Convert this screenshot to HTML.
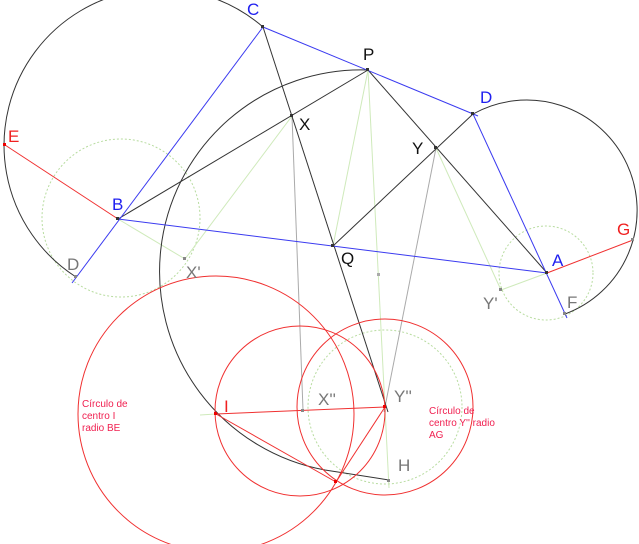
<!DOCTYPE html>
<html><head><meta charset="utf-8"><style>
html,body{margin:0;padding:0;background:#fff;}
svg{display:block;}
text{font-family:"Liberation Sans",sans-serif;}
</style></head><body>
<svg width="639" height="544" viewBox="0 0 639 544" xmlns="http://www.w3.org/2000/svg">
<rect width="639" height="544" fill="#fff"/>
<g fill="none" stroke="#b8dca0" stroke-width="1" stroke-dasharray="2,2">
<circle cx="121" cy="218" r="79"/>
<circle cx="546" cy="273" r="47"/>
<circle cx="385" cy="407" r="77"/>
</g>
<g stroke="#cfeabb" stroke-width="1" fill="none">
<line x1="118" y1="219" x2="185" y2="259"/>
<line x1="185" y1="259" x2="292" y2="116"/>
<line x1="436" y1="148" x2="501" y2="290"/>
<line x1="547" y1="273" x2="501" y2="290"/>
<line x1="368" y1="70" x2="333" y2="246"/>
<line x1="368" y1="70" x2="389" y2="488"/>
<line x1="200" y1="415" x2="216" y2="414"/>
</g>
<g stroke="#aaaaaa" stroke-width="1" fill="none">
<line x1="292" y1="116" x2="303" y2="410"/>
<line x1="436" y1="148" x2="384" y2="412"/>
</g>
<g fill="none" stroke="#333" stroke-width="1">
<path d="M263,27 A156.5,156.5 0 1 0 76,277"/>
<path d="M473,114 A110.4,110.4 0 1 1 565,314"/>
<path d="M368,70 A201.7,201.7 0 0 0 325,470 L389,480"/>
<line x1="118" y1="219" x2="368" y2="70"/>
<line x1="368" y1="70" x2="547" y2="273"/>
<line x1="333" y1="246" x2="473" y2="114"/>
<line x1="263" y1="27" x2="388" y2="412"/>
</g>
<g stroke="#3a3af0" stroke-width="1" fill="none">
<line x1="263" y1="27" x2="478" y2="116"/>
<line x1="263" y1="27" x2="72" y2="283"/>
<line x1="118" y1="219" x2="547" y2="273"/>
<line x1="473" y1="114" x2="567" y2="318"/>
</g>
<g stroke="#f03030" stroke-width="1" fill="none">
<line x1="5" y1="145" x2="118" y2="219"/>
<line x1="547" y1="273" x2="633" y2="240"/>
<circle cx="216" cy="414" r="138"/>
<circle cx="300" cy="411" r="85"/>
<circle cx="385" cy="407" r="88"/>
<line x1="216" y1="414" x2="385" y2="407"/>
<line x1="216" y1="414" x2="336" y2="482"/>
<line x1="385" y1="407" x2="336" y2="482"/>
</g>
<g fill="#333">
<rect x="261" y="25" width="3" height="3"/><rect x="366" y="68" width="3" height="3"/>
<rect x="471" y="112" width="3" height="3"/><rect x="545" y="271" width="3" height="3"/>
<rect x="116" y="217" width="3" height="3"/><rect x="331" y="244" width="3" height="3"/>
<rect x="290" y="114" width="3" height="3"/><rect x="434" y="146" width="3" height="3"/>
<rect x="74" y="275" width="3" height="3" fill="#888"/><rect x="563" y="312" width="3" height="3" fill="#888"/>
<rect x="183" y="257" width="3" height="3" fill="#888"/><rect x="499" y="288" width="3" height="3" fill="#888"/>
<rect x="301" y="409" width="3" height="3" fill="#888"/><rect x="387" y="479" width="3" height="3" fill="#888"/>
<rect x="631" y="238" width="3" height="3" fill="#888"/><rect x="377" y="273" width="3" height="3" fill="#aaa"/>
<rect x="3" y="143" width="3" height="3" fill="#e00"/><rect x="214" y="412" width="3" height="3" fill="#e00"/>
<rect x="334" y="480" width="3" height="3" fill="#e00"/><rect x="383" y="405" width="3" height="3" fill="#e00"/>
</g>
<g font-size="17">
<text x="247" y="15" fill="#2020f0">C</text>
<text x="363" y="60" fill="#111">P</text>
<text x="480" y="103" fill="#2020f0">D</text>
<text x="412" y="154" fill="#111">Y</text>
<text x="299" y="130" fill="#111">X</text>
<text x="8" y="142" fill="#f02020">E</text>
<text x="112" y="210" fill="#2020f0">B</text>
<text x="67" y="270" fill="#777">D</text>
<text x="186" y="278" fill="#777">X'</text>
<text x="341" y="264" fill="#111">Q</text>
<text x="552" y="266" fill="#2020f0">A</text>
<text x="617" y="235" fill="#f02020">G</text>
<text x="567" y="308" fill="#777">F</text>
<text x="483" y="309" fill="#777">Y'</text>
<text x="224" y="412" fill="#f02020">I</text>
<text x="318" y="405" fill="#777">X''</text>
<text x="394" y="402" fill="#777">Y''</text>
<text x="398" y="471" fill="#777">H</text>
</g>
<g font-size="10" fill="#f02050">
<text x="82" y="407">Círculo de</text>
<text x="82" y="419">centro I</text>
<text x="82" y="431">radio BE</text>
<text x="429" y="414">Círculo de</text>
<text x="429" y="426">centro Y'' radio</text>
<text x="429" y="438">AG</text>
</g>
</svg>
</body></html>
